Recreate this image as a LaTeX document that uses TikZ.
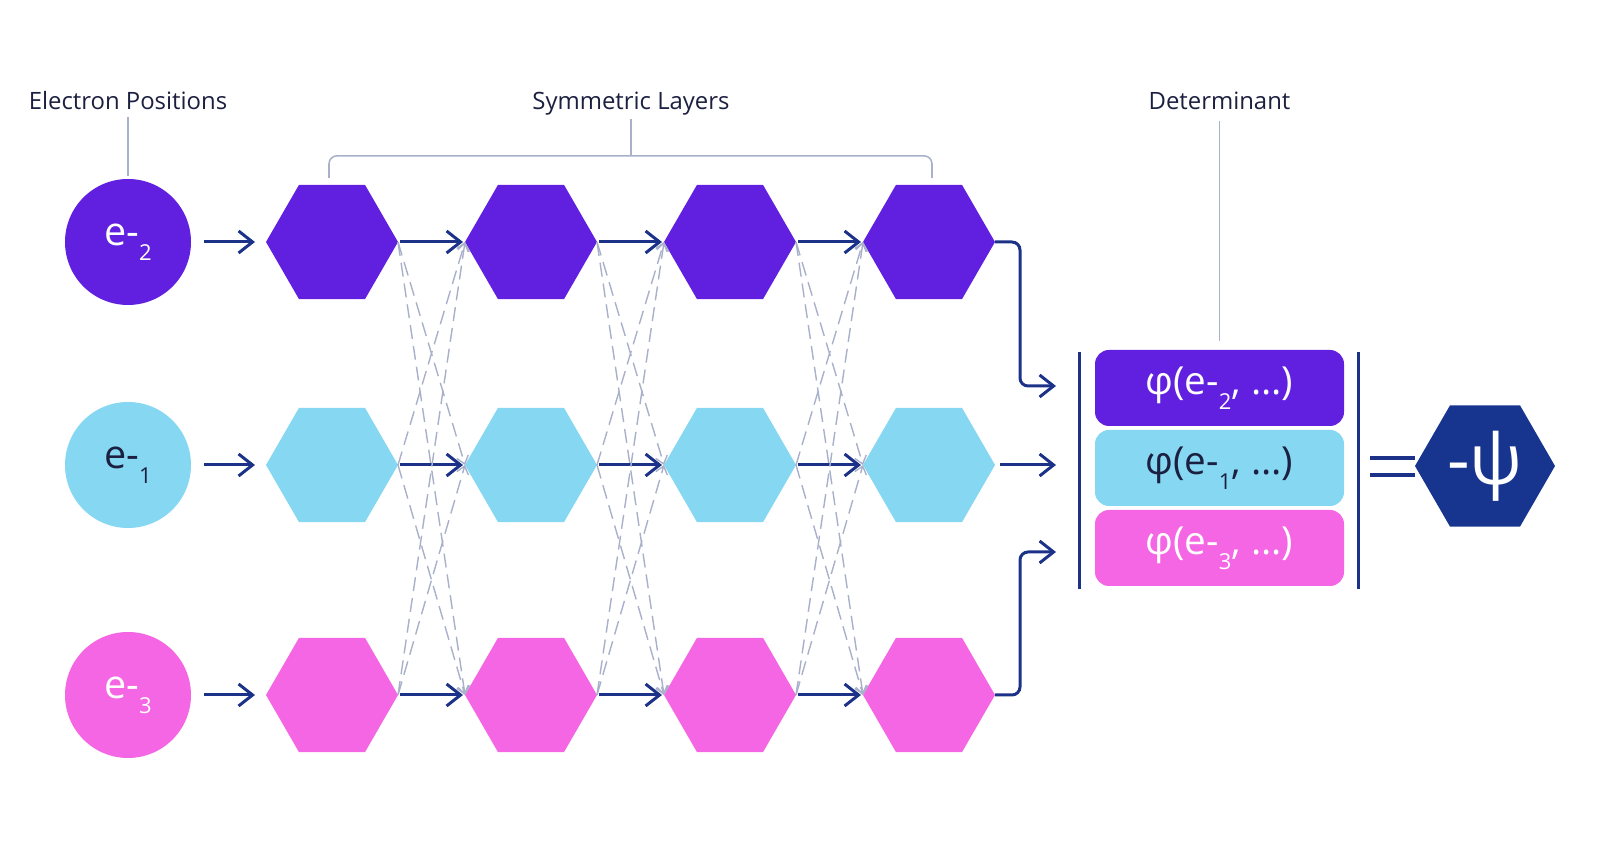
\documentclass[tikz,border=0pt]{standalone}
\usepackage{fontspec}
\setmainfont{Open Sans}
\usepackage{tikz}
\usetikzlibrary{arrows.meta,positioning,calc,shapes.geometric}

\definecolor{elecpurple}{HTML}{6120DF}
\definecolor{eleccyan}{HTML}{85D7F2}
\definecolor{elecpink}{HTML}{F466E3}
\definecolor{flownavy}{HTML}{1B3288}
\definecolor{psinavy}{HTML}{17358E}
\definecolor{linegray}{HTML}{A9B0CA}
\definecolor{textnavy}{HTML}{1C2040}

\newcommand{\esub}[1]{e-\raisebox{-0.3cm}{\fontsize{12.5}{13}\selectfont #1}}

\begin{document}
\begin{tikzpicture}[
      font=\fontsize{13.6}{16}\selectfont,
      heading/.style={text=textnavy, inner sep=0pt, text height=0.36cm, text depth=0.1cm},
      electron/.style={circle, minimum size=2.52cm, inner sep=0, font=\fontsize{22.5}{26}\selectfont},
      layer/.style={regular polygon, regular polygon sides=6, minimum size=2.64cm, inner sep=0, outer sep=0},
      orbital/.style={rounded corners=0.28cm, minimum width=4.98cm, minimum height=1.52cm, inner sep=0, font=\fontsize{22}{26}\selectfont},
      flow/.style={flownavy, line width=1.7pt, -{Straight Barb[length=2.8mm,width=4.4mm]}},
      mix/.style={linegray, line width=0.8pt, dash pattern=on 2.8mm off 1.4mm, -{Straight Barb[length=1.5mm,width=2.4mm]}},
      bracket/.style={linegray, line width=0.9pt, rounded corners=0.16cm},
      bar/.style={flownavy, line width=1.7pt}
  ]
    \useasboundingbox (0,0) rectangle (32,16.86);

    % electrons and symmetric layers, one row each
    \foreach \r/\y/\c/\t/\n in {1/12.02/elecpurple/white/2, 2/7.56/eleccyan/textnavy/1, 3/2.96/elecpink/white/3} {
        \node[electron, fill=\c, text=\t] (e\r) at (2.56,\y) {\esub{\n}};
        \foreach \k/\x in {1/6.64,2/10.62,3/14.60,4/18.58} {
            \node[layer, fill=\c] (h\k\r) at (\x,\y) {};
        }
        \draw[flow, shorten <=0.26cm, shorten >=0.22cm] (e\r) -- (h1\r.west);
    }

    % mixing between rows
    \foreach \k [evaluate=\k as \m using int(\k+1)] in {1,2,3} {
        \foreach \r in {1,2,3} {
            \foreach \s in {1,2,3} {
                \ifnum\r=\s\else\draw[mix] (h\k\r.east) -- (h\m\s.west);\fi
            }
            \draw[flow, shorten <=0.04cm, shorten >=0.04cm] (h\k\r.east) -- (h\m\r.west);
        }
    }

    % determinant
    \node[orbital, fill=elecpurple, text=white] (phi2) at (24.39,9.10) {φ(\esub{2}, ...)};
    \node[orbital, fill=eleccyan, text=textnavy] (phi1) at (24.39,7.50) {φ(\esub{1}, ...)};
    \node[orbital, fill=elecpink, text=white] (phi3) at (24.39,5.90) {φ(\esub{3}, ...)};
    \draw[bar] (21.58,9.82) -- (21.58,5.08);
    \draw[bar] (27.16,9.82) -- (27.16,5.08);

    \coordinate (in2) at (21.12,9.14);
    \coordinate (in1) at (21.12,7.56);
    \coordinate (in3) at (21.12,5.82);
    \draw[flow, rounded corners=0.16cm] (h41.east) -- ++(0.5,0) |- (in2);
    \draw[flow, shorten <=0.1cm] (h42.east) -- (in1);
    \draw[flow, rounded corners=0.16cm] (h43.east) -- ++(0.5,0) |- (in3);

    \node[layer, minimum size=2.8cm, fill=psinavy, text=white, font=\fontsize{40}{44}\selectfont] (psi) at (29.70,7.54) {-ψ};
    \draw[flownavy, line width=2.6pt] (27.40,7.70) -- (psi.west |- 0,7.70);
    \draw[flownavy, line width=2.6pt] (27.40,7.36) -- (psi.west |- 0,7.36);

    % headings
    \node[heading] (poslabel) at (2.56,14.80) {Electron Positions};
    \draw[bracket] ($(poslabel.south)+(0,-0.04)$) -- ($(e1.north)+(0,0.06)$);
    \node[heading] (symlabel) at (12.62,14.80) {Symmetric Layers};
    \draw[bracket] ($(symlabel.south)+(0,-0.08)$) -- (symlabel.south |- 0,13.74);
    \draw[bracket] ($(h11.north)+(-0.06,0.14)$) |- ($(h41.north)+(0.06,0.58)$) -- ($(h41.north)+(0.06,0.14)$);
    \node[heading] (detlabel) at (24.39,14.80) {Determinant};
    \draw[bracket] ($(detlabel.south)+(0,-0.12)$) -- ($(phi2.north)+(0,0.18)$);
\end{tikzpicture}
\end{document}
